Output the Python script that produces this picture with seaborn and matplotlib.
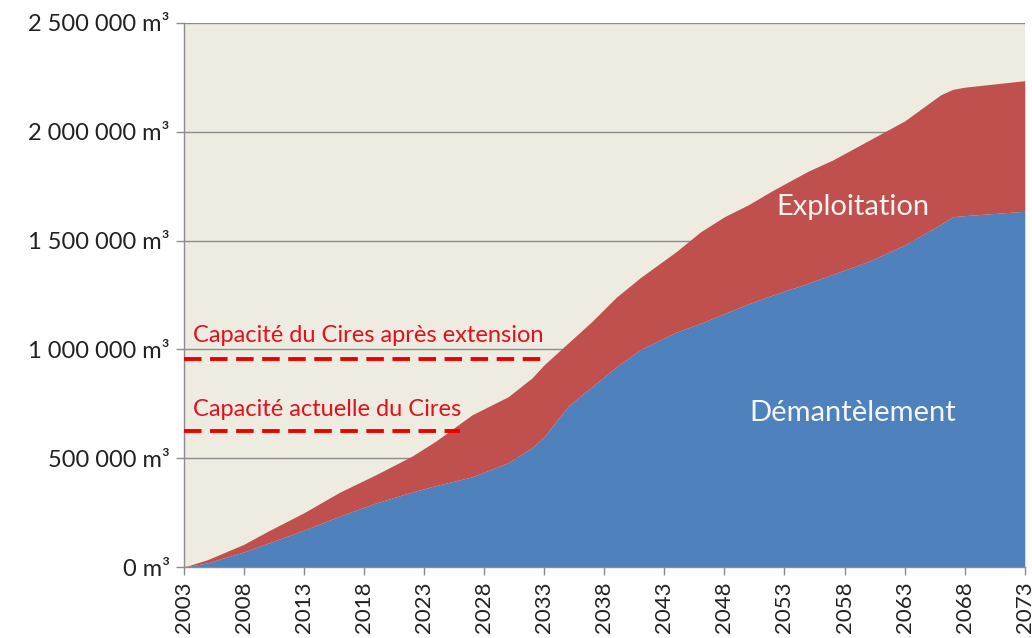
import matplotlib
matplotlib.use("Agg")
import matplotlib.pyplot as plt
import seaborn as sns
import pandas as pd

# Volumes cumulés (m3)
annees = [2003, 2005, 2008, 2010, 2013, 2016, 2019, 2022, 2024, 2027,
          2030, 2032, 2033, 2035, 2037, 2039, 2041, 2044, 2046, 2048,
          2050, 2052, 2055, 2057, 2060, 2063, 2066, 2067, 2068, 2073]
demantelement = [0, 20000, 70000, 110000, 170000, 235000, 295000, 345000, 375000, 415000,
                 480000, 550000, 600000, 740000, 830000, 920000, 1000000, 1080000, 1120000, 1165000,
                 1210000, 1250000, 1305000, 1345000, 1405000, 1480000, 1575000, 1610000, 1615000, 1635000]
total = [0, 35000, 105000, 165000, 250000, 345000, 425000, 510000, 580000, 700000,
         783000, 870000, 930000, 1030000, 1130000, 1240000, 1330000, 1450000, 1540000, 1610000,
         1665000, 1730000, 1820000, 1870000, 1960000, 2050000, 2170000, 2195000, 2205000, 2235000]

capacite_actuelle = 625000
fin_actuelle = 2026
capacite_extension = 955000
fin_extension = 2033

yticks = [0, 500000, 1000000, 1500000, 2000000, 2500000]
ytick_labels = ["0 m³", "500 000 m³", "1 000 000 m³", "1 500 000 m³",
                "2 000 000 m³", "2 500 000 m³"]
xticks = list(range(2003, 2074, 5))

BLUE = "#4F81BD"
RED = "#C0504D"
BG = "#EEECE1"
GRID = "#8C8C8C"

sns.set_style("white", {"axes.facecolor": BG})
plt.rcParams["font.family"] = ["Lato", "DejaVu Sans"]

df = pd.DataFrame({"annee": annees, "demantelement": demantelement, "total": total})

fig = plt.figure(figsize=(10.32, 6.38), dpi=100)
ax = fig.add_axes([0.178, 0.111, 0.815, 0.853])

ax.fill_between(df["annee"], 0, df["demantelement"], color=BLUE, lw=0, zorder=2)
ax.fill_between(df["annee"], df["demantelement"], df["total"], color=RED, lw=0, zorder=2)

for cap, fin in [(capacite_extension, fin_extension), (capacite_actuelle, fin_actuelle)]:
    sns.lineplot(x=[2003, fin], y=[cap, cap], ax=ax, color="#EE0000", lw=2.8,
                 dashes=False, zorder=4).lines[-1].set_dashes((4.5, 2.2))

ax.text(2003.8, 1066000, "Capacité du Cires après extension", color="#E3101E",
        fontsize=17, va="center", ha="left", zorder=5)
ax.text(2003.8, 726000, "Capacité actuelle du Cires", color="#E3101E",
        fontsize=17, va="center", ha="left", zorder=5)
ax.text(2058.7, 1654000, "Exploitation", color="#FAF2EE", fontsize=21,
        va="center", ha="center", zorder=5)
ax.text(2058.7, 708000, "Démantèlement", color="#F4F6FA", fontsize=21,
        va="center", ha="center", zorder=5)

ax.set_xlim(2003, 2073)
ax.set_ylim(0, 2500000)
ax.set_yticks(yticks)
ax.set_yticklabels(ytick_labels, fontsize=17, color="#222222")
ax.set_xticks(xticks)
# le dernier libellé (2073) est coupé par le bord, comme sur l'original
ax.set_xticklabels([str(x) for x in xticks], rotation=90, fontsize=16, color="#222222")
ax.set_xlabel("")
ax.set_ylabel("")

ax.yaxis.grid(True, color=GRID, lw=1, zorder=1)
ax.set_axisbelow(True)
ax.tick_params(axis="both", which="major", direction="out", length=6, width=1,
               color=GRID, pad=4, left=True, bottom=True)
for side in ["top", "right"]:
    ax.spines[side].set_visible(False)
for side in ["left", "bottom"]:
    ax.spines[side].set_color(GRID)
    ax.spines[side].set_linewidth(1)

fig.savefig("out.png", dpi=100, facecolor="white")
